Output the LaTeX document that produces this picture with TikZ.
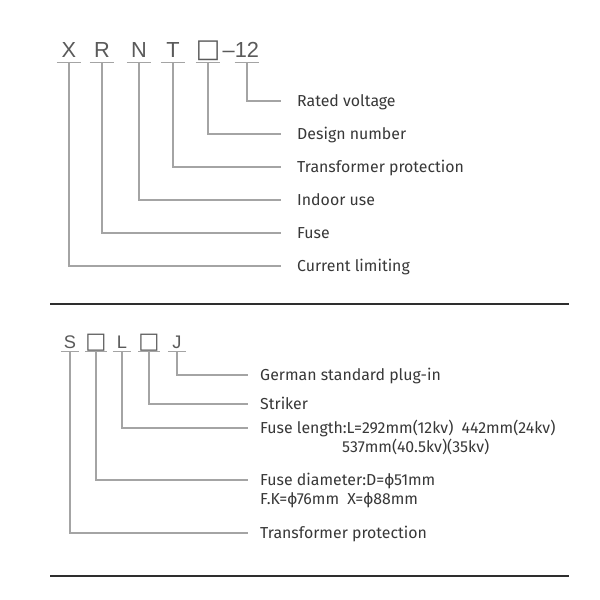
\documentclass[tikz,border=0pt]{standalone}
\usepackage{fontspec}
\setmainfont{Fira Sans}
\newfontfamily\codefont{Liberation Sans}
\newfontfamily\symfont{DejaVu Sans}
\usetikzlibrary{positioning}
\definecolor{codegray}{HTML}{5A5A5A}
\definecolor{linegray}{HTML}{A4A4A4}
\definecolor{textgray}{HTML}{383838}
\definecolor{rulegray}{HTML}{2E2E2E}

\tikzset{
  codebig/.style={anchor=base, inner xsep=0pt, inner ysep=4.25pt, text depth=0pt,
    minimum width=20.4pt, text=codegray, font=\codefont\fontsize{18.5}{20}\selectfont},
  codesmall/.style={anchor=base, inner xsep=0pt, inner ysep=2.55pt, text depth=0pt,
    minimum width=15.3pt, text=codegray, font=\codefont\fontsize{15.5}{17}\selectfont},
  boxbig/.style={codebig, font=\symfont\fontsize{22}{24}\selectfont},
  boxsmall/.style={codesmall, font=\symfont\fontsize{19}{21}\selectfont},
  labeltop/.style={anchor=west, inner xsep=13.6pt, inner ysep=0pt, text=textgray,
    text height=12.3pt, text depth=3pt, font=\fontsize{13.5}{16}\selectfont},
  labelbot/.style={labeltop, inner xsep=10.2pt},
  labelcont/.style={labeltop, inner xsep=0pt},
  leader/.style={draw=linegray, line width=0.9pt},
  rule/.style={draw=rulegray, line width=1.5pt}
}

\begin{document}
\begin{tikzpicture}[x=0.85pt,y=-0.85pt]
\fill[white] (0,0) rectangle (600,600);
\useasboundingbox (0,0) rectangle (600,600);

% Codigo superior: X R N T [] -12
\node (cX) [codebig] at (69,57) {X};
\node (cR) [codebig] at (102,57) {R};
\node (cN) [codebig] at (139,57) {N};
\node (cT) [codebig] at (173,57) {T};
\node (cD) [boxbig] at (208,57) {□};
\node (cV) [codebig, minimum width=17pt] at (247,57) {12};
\node (cdash) [codebig, minimum width=0pt, inner ysep=0pt, anchor=base east] at (235,57) {–};

\foreach \c in {cX,cR,cN,cT,cD,cV}
  \draw[leader] (\c.south west) -- (\c.south east);

% Etiquetas superiores
\node (lV) [labeltop] at (281,101) {Rated voltage};
\node (lD) [labeltop] at (281,134) {Design number};
\node (lT) [labeltop] at (281,167) {Transformer protection};
\node (lN) [labeltop] at (281,200) {Indoor use};
\node (lR) [labeltop] at (281,233) {Fuse};
\node (lX) [labeltop] at (281,266) {Current limiting};

\draw[leader] (cV.south) |- (lV.west);
\draw[leader] (cD.south) |- (lD.west);
\draw[leader] (cT.south) |- (lT.west);
\draw[leader] (cN.south) |- (lN.west);
\draw[leader] (cR.south) |- (lR.west);
\draw[leader] (cX.south) |- (lX.west);

% Separadores
\draw[rule] (50,304) -- (569,304);
\draw[rule] (50,576) -- (569,576);

% Codigo inferior: S [] L [] J
\node (sS) [codesmall] at (70,348) {S};
\node (sD) [boxsmall] at (96,348) {□};
\node (sL) [codesmall] at (122,348) {L};
\node (sK) [boxsmall] at (149,348) {□};
\node (sJ) [codesmall] at (177,348) {J};

\foreach \c in {sS,sD,sL,sK,sJ}
  \draw[leader] (\c.south west) -- (\c.south east);

% Etiquetas inferiores
\node (mJ) [labelbot] at (248,375) {German standard plug-in};
\node (mK) [labelbot] at (248,404) {Striker};
\node (mL) [labelbot] at (248,428) {Fuse length:L=292mm(12kv)\hspace{7pt}442mm(24kv)};
\node (mL2) [labelcont] at (342,447) {537mm(40.5kv)(35kv)};
\node (mD) [labelbot] at (248,480) {Fuse diameter:D=ϕ51mm};
\node (mD2) [labelcont] at (260,499) {F.K=ϕ76mm\hspace{7pt}X=ϕ88mm};
\node (mS) [labelbot] at (248,533) {Transformer protection};

\draw[leader] (sJ.south) |- (mJ.west);
\draw[leader] (sK.south) |- (mK.west);
\draw[leader] (sL.south) |- (mL.west);
\draw[leader] (sD.south) |- (mD.west);
\draw[leader] (sS.south) |- (mS.west);
\end{tikzpicture}
\end{document}
